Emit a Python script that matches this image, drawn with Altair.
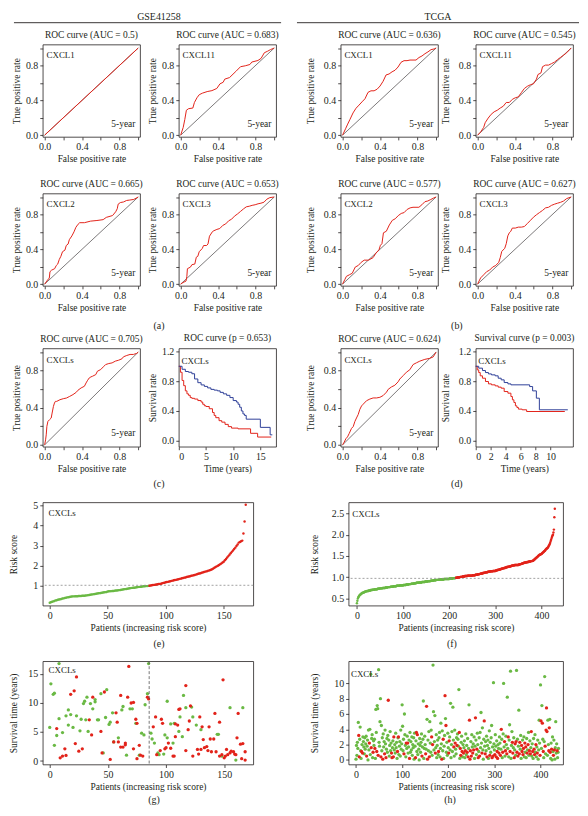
import altair as alt
import pandas as pd

FONT = "Liberation Serif"
INK = "#231f20"
RED = "#e2231a"
GREEN = "#6ab944"
BLUE = "#2e3f98"

# ---------------- ROC curves ----------------
DIAG = [0.0, 1.0]
gse_cxcl1_fpr = [0.0, 1.0]
gse_cxcl1_tpr = [0.0, 1.0]
gse_cxcl11_fpr = [0, 0.027, 0.044, 0.061, 0.085, 0.13, 0.147, 0.174, 0.198, 0.232, 0.283, 0.334, 0.386, 0.42, 0.454, 0.471, 0.522, 0.59, 0.64, 0.69, 0.74, 0.76, 0.826, 0.86, 0.894, 0.93, 0.96, 1.0]
gse_cxcl11_tpr = [0, 0.089, 0.179, 0.286, 0.304, 0.311, 0.375, 0.429, 0.464, 0.482, 0.5, 0.511, 0.536, 0.589, 0.607, 0.643, 0.661, 0.732, 0.786, 0.796, 0.811, 0.839, 0.857, 0.882, 0.946, 0.964, 0.982, 1.0]
gse_cxcl2_fpr = [0, 0.023, 0.05, 0.057, 0.074, 0.107, 0.124, 0.14, 0.157, 0.174, 0.191, 0.217, 0.231, 0.251, 0.264, 0.291, 0.314, 0.334, 0.358, 0.375, 0.425, 0.492, 0.559, 0.625, 0.659, 0.726, 0.759, 0.776, 0.786, 0.809, 0.843, 0.876, 0.91, 0.953, 1]
gse_cxcl2_tpr = [0, 0.035, 0.07, 0.142, 0.16, 0.177, 0.213, 0.23, 0.284, 0.32, 0.372, 0.39, 0.443, 0.46, 0.51, 0.553, 0.6, 0.652, 0.688, 0.705, 0.705, 0.723, 0.73, 0.74, 0.766, 0.787, 0.83, 0.865, 0.918, 0.936, 0.943, 0.96, 0.965, 0.972, 1.0]
gse_cxcl3_fpr = [0, 0.025, 0.057, 0.066, 0.072, 0.104, 0.12, 0.151, 0.167, 0.183, 0.198, 0.23, 0.245, 0.277, 0.292, 0.308, 0.34, 0.355, 0.387, 0.418, 0.45, 0.481, 0.513, 0.544, 0.575, 0.607, 0.638, 0.67, 0.701, 0.733, 0.764, 0.796, 0.827, 0.858, 0.89, 0.921, 0.953, 1]
gse_cxcl3_tpr = [0, 0.018, 0.035, 0.089, 0.177, 0.195, 0.223, 0.23, 0.309, 0.319, 0.372, 0.408, 0.443, 0.443, 0.461, 0.55, 0.603, 0.613, 0.628, 0.638, 0.674, 0.691, 0.727, 0.745, 0.78, 0.805, 0.833, 0.862, 0.887, 0.894, 0.904, 0.911, 0.922, 0.929, 0.94, 0.975, 0.993, 1.0]
tcga_cxcl1_fpr = [0, 0.016, 0.032, 0.055, 0.08, 0.112, 0.144, 0.176, 0.208, 0.24, 0.272, 0.304, 0.337, 0.369, 0.401, 0.433, 0.465, 0.497, 0.529, 0.561, 0.593, 0.625, 0.657, 0.689, 0.721, 0.753, 0.785, 0.817, 0.849, 0.881, 0.913, 0.946, 0.978, 1]
tcga_cxcl1_tpr = [0, 0.036, 0.073, 0.127, 0.182, 0.255, 0.309, 0.345, 0.382, 0.418, 0.491, 0.509, 0.509, 0.527, 0.564, 0.618, 0.691, 0.702, 0.727, 0.745, 0.782, 0.836, 0.855, 0.855, 0.862, 0.862, 0.862, 0.891, 0.909, 0.935, 0.956, 0.982, 0.989, 1]
tcga_cxcl11_fpr = [0, 0.032, 0.065, 0.081, 0.113, 0.145, 0.177, 0.21, 0.242, 0.274, 0.306, 0.339, 0.371, 0.403, 0.435, 0.468, 0.5, 0.532, 0.565, 0.597, 0.629, 0.645, 0.677, 0.694, 0.726, 0.758, 0.79, 0.823, 0.855, 0.887, 0.919, 0.952, 0.984, 1]
tcga_cxcl11_tpr = [0, 0.036, 0.089, 0.143, 0.196, 0.239, 0.268, 0.286, 0.311, 0.332, 0.375, 0.375, 0.411, 0.429, 0.439, 0.489, 0.536, 0.561, 0.579, 0.589, 0.643, 0.696, 0.714, 0.786, 0.804, 0.804, 0.821, 0.839, 0.868, 0.893, 0.918, 0.946, 0.982, 1]
tcga_cxcl2_fpr = [0, 0.025, 0.041, 0.073, 0.104, 0.136, 0.168, 0.199, 0.231, 0.278, 0.326, 0.358, 0.389, 0.405, 0.421, 0.437, 0.468, 0.5, 0.532, 0.563, 0.595, 0.627, 0.658, 0.69, 0.722, 0.753, 0.785, 0.816, 0.848, 0.88, 0.911, 0.943, 0.975, 1]
tcga_cxcl2_tpr = [0, 0.054, 0.089, 0.107, 0.125, 0.196, 0.214, 0.25, 0.275, 0.275, 0.304, 0.357, 0.393, 0.446, 0.464, 0.589, 0.607, 0.679, 0.732, 0.75, 0.786, 0.811, 0.821, 0.857, 0.875, 0.882, 0.882, 0.882, 0.911, 0.946, 0.954, 0.971, 0.989, 1]
tcga_cxcl3_fpr = [0, 0.016, 0.032, 0.065, 0.097, 0.129, 0.161, 0.194, 0.226, 0.242, 0.258, 0.29, 0.306, 0.323, 0.339, 0.355, 0.371, 0.403, 0.435, 0.468, 0.5, 0.532, 0.565, 0.597, 0.629, 0.661, 0.694, 0.726, 0.758, 0.79, 0.823, 0.855, 0.887, 0.919, 0.952, 1]
tcga_cxcl3_tpr = [0, 0.036, 0.071, 0.107, 0.143, 0.161, 0.196, 0.214, 0.25, 0.304, 0.375, 0.411, 0.464, 0.554, 0.589, 0.607, 0.643, 0.643, 0.654, 0.654, 0.661, 0.696, 0.732, 0.768, 0.796, 0.821, 0.846, 0.875, 0.882, 0.904, 0.918, 0.929, 0.939, 0.954, 0.982, 1]
gse_cxcls_fpr = [0, 0.01, 0.017, 0.024, 0.035, 0.052, 0.07, 0.08, 0.094, 0.105, 0.115, 0.129, 0.164, 0.199, 0.233, 0.268, 0.303, 0.338, 0.355, 0.39, 0.425, 0.443, 0.46, 0.477, 0.495, 0.512, 0.547, 0.564, 0.599, 0.634, 0.652, 0.686, 0.721, 0.756, 0.791, 0.826, 0.843, 0.878, 0.913, 0.948, 0.983, 1.0]
gse_cxcls_tpr = [0, 0.054, 0.108, 0.199, 0.253, 0.271, 0.289, 0.343, 0.415, 0.451, 0.469, 0.469, 0.487, 0.498, 0.505, 0.523, 0.542, 0.567, 0.588, 0.614, 0.632, 0.668, 0.697, 0.722, 0.733, 0.74, 0.758, 0.794, 0.812, 0.848, 0.866, 0.877, 0.884, 0.903, 0.913, 0.928, 0.95, 0.964, 0.975, 0.975, 0.986, 1.0]
tcga_cxcls_fpr = [0, 0.018, 0.036, 0.053, 0.071, 0.096, 0.114, 0.132, 0.149, 0.167, 0.185, 0.203, 0.221, 0.256, 0.292, 0.327, 0.363, 0.399, 0.434, 0.47, 0.488, 0.523, 0.559, 0.594, 0.612, 0.648, 0.683, 0.719, 0.754, 0.79, 0.826, 0.879, 0.932, 0.968, 1.0]
tcga_cxcls_tpr = [0, 0.03, 0.067, 0.086, 0.123, 0.178, 0.197, 0.253, 0.29, 0.327, 0.383, 0.42, 0.439, 0.476, 0.494, 0.506, 0.506, 0.513, 0.532, 0.569, 0.599, 0.625, 0.643, 0.68, 0.71, 0.747, 0.784, 0.81, 0.866, 0.885, 0.903, 0.922, 0.933, 0.948, 1.0]

# ---------------- Survival curves ----------------
gse_low_t = [0, 0.6, 1.2, 1.8, 2.4, 2.9, 3.5, 4.1, 4.7, 5.3, 5.9, 6.5, 7.1, 7.6, 8.2, 8.8, 9.4, 10.0, 10.6, 10.9, 11.2, 11.5, 11.8, 12.1, 12.4, 15.0, 16.8, 17.2]
gse_low_s = [1.0, 0.96, 0.93, 0.92, 0.90, 0.83, 0.78, 0.75, 0.73, 0.71, 0.69, 0.68, 0.67, 0.65, 0.63, 0.61, 0.58, 0.54, 0.52, 0.49, 0.45, 0.40, 0.36, 0.34, 0.29, 0.18, 0.08, 0.08]
gse_high_t = [0, 0.3, 0.6, 0.9, 1.2, 1.5, 1.8, 2.1, 2.4, 2.9, 3.5, 4.1, 4.4, 4.7, 5.0, 5.6, 6.2, 6.5, 6.8, 7.4, 7.9, 8.5, 9.1, 9.7, 10.9, 13.2, 14.5, 17.0]
gse_high_s = [1.0, 0.92, 0.81, 0.74, 0.67, 0.63, 0.61, 0.58, 0.57, 0.56, 0.54, 0.52, 0.49, 0.47, 0.46, 0.43, 0.38, 0.34, 0.31, 0.27, 0.25, 0.22, 0.19, 0.17, 0.16, 0.10, 0.05, 0.05]
tcga_low_t = [0, 0.4, 0.9, 1.3, 1.7, 2.1, 2.6, 3.0, 3.4, 3.8, 4.3, 4.7, 7.2, 7.6, 8.1, 8.5, 12.3]
tcga_low_s = [1.0, 0.975, 0.943, 0.916, 0.898, 0.885, 0.872, 0.84, 0.818, 0.782, 0.764, 0.751, 0.728, 0.67, 0.572, 0.416, 0.416]
tcga_high_t = [0, 0.2, 0.4, 0.6, 0.9, 1.3, 1.7, 2.1, 2.6, 3.0, 3.4, 3.8, 4.3, 4.7, 4.9, 5.1, 5.3, 5.5, 5.7, 6.2, 6.8, 11.9]
tcga_high_s = [1.0, 0.952, 0.916, 0.872, 0.84, 0.796, 0.764, 0.751, 0.737, 0.72, 0.706, 0.661, 0.639, 0.594, 0.55, 0.514, 0.469, 0.447, 0.425, 0.416, 0.393, 0.393]

# ---------------- Risk scores (sorted) ----------------
gse_risk = [
    0.16, 0.19, 0.21, 0.23, 0.25, 0.28, 0.29, 0.31, 0.32, 0.34, 0.35, 0.37, 0.38, 0.40, 0.41, 0.43, 0.44, 0.45, 0.46, 0.47,
    0.48, 0.48, 0.49, 0.49, 0.49, 0.50, 0.50, 0.50, 0.51, 0.51, 0.51, 0.52, 0.53, 0.54, 0.55, 0.56, 0.57, 0.58, 0.59, 0.60,
    0.61, 0.62, 0.63, 0.64, 0.65, 0.66, 0.67, 0.68, 0.69, 0.70, 0.72, 0.73, 0.74, 0.74, 0.75, 0.75, 0.76, 0.77, 0.77, 0.78,
    0.79, 0.80, 0.81, 0.82, 0.83, 0.84, 0.85, 0.86, 0.87, 0.88, 0.89, 0.90, 0.91, 0.91, 0.92, 0.93, 0.94, 0.95, 0.95, 0.96,
    0.97, 0.98, 0.98, 0.99, 0.99, 1.00, 1.01, 1.02, 1.03, 1.04, 1.05, 1.06, 1.07, 1.08, 1.09, 1.10, 1.11, 1.13, 1.15, 1.16,
    1.18, 1.19, 1.20, 1.22, 1.23, 1.25, 1.26, 1.28, 1.29, 1.30, 1.32, 1.33, 1.35, 1.36, 1.38, 1.39, 1.41, 1.42, 1.44, 1.45,
    1.47, 1.48, 1.50, 1.51, 1.53, 1.54, 1.56, 1.58, 1.60, 1.62, 1.63, 1.65, 1.67, 1.69, 1.71, 1.72, 1.74, 1.76, 1.78, 1.80,
    1.83, 1.86, 1.90, 1.94, 1.97, 2.00, 2.04, 2.08, 2.12, 2.16, 2.20, 2.27, 2.34, 2.41, 2.48, 2.55, 2.62, 2.69, 2.76, 2.83,
    2.90, 2.98, 3.06, 3.15, 3.18, 3.22, 3.25, 3.60, 4.20, 5.03]
gse_n_low = 86
gse_cutoff = 1.03

tcga_risk = [
    0.39, 0.45, 0.50, 0.53, 0.55, 0.57, 0.58, 0.59, 0.60, 0.61, 0.62, 0.63, 0.63, 0.64, 0.64, 0.65, 0.65, 0.66, 0.66, 0.67,
    0.67, 0.67, 0.68, 0.68, 0.68, 0.68, 0.69, 0.69, 0.69, 0.69, 0.70, 0.70, 0.70, 0.70, 0.71, 0.71, 0.71, 0.71, 0.71, 0.72,
    0.72, 0.72, 0.72, 0.72, 0.72, 0.73, 0.73, 0.73, 0.73, 0.73, 0.74, 0.74, 0.74, 0.74, 0.74, 0.74, 0.75, 0.75, 0.75, 0.75,
    0.75, 0.75, 0.76, 0.76, 0.76, 0.76, 0.76, 0.77, 0.77, 0.77, 0.77, 0.77, 0.77, 0.78, 0.78, 0.78, 0.78, 0.78, 0.78, 0.79,
    0.79, 0.79, 0.79, 0.79, 0.79, 0.79, 0.80, 0.80, 0.80, 0.80, 0.80, 0.80, 0.80, 0.81, 0.81, 0.81, 0.81, 0.81, 0.81, 0.81,
    0.81, 0.82, 0.82, 0.82, 0.82, 0.82, 0.82, 0.83, 0.83, 0.83, 0.83, 0.83, 0.83, 0.84, 0.84, 0.84, 0.84, 0.84, 0.85, 0.85,
    0.85, 0.85, 0.85, 0.85, 0.86, 0.86, 0.86, 0.86, 0.86, 0.87, 0.87, 0.87, 0.87, 0.87, 0.87, 0.88, 0.88, 0.88, 0.88, 0.88,
    0.88, 0.89, 0.89, 0.89, 0.89, 0.89, 0.89, 0.89, 0.90, 0.90, 0.90, 0.90, 0.90, 0.90, 0.91, 0.91, 0.91, 0.91, 0.91, 0.91,
    0.92, 0.92, 0.92, 0.92, 0.92, 0.92, 0.93, 0.93, 0.93, 0.93, 0.93, 0.93, 0.94, 0.94, 0.94, 0.94, 0.94, 0.94, 0.94, 0.95,
    0.95, 0.95, 0.95, 0.95, 0.95, 0.95, 0.95, 0.95, 0.95, 0.96, 0.96, 0.96, 0.96, 0.96, 0.96, 0.96, 0.96, 0.96, 0.96, 0.96,
    0.96, 0.97, 0.97, 0.97, 0.97, 0.97, 0.97, 0.97, 0.98, 0.98, 0.98, 0.98, 0.98, 0.98, 0.99, 0.99, 0.99, 0.99, 0.99, 1.00,
    1.00, 1.00, 1.00, 1.00, 1.01, 1.01, 1.01, 1.01, 1.01, 1.02, 1.02, 1.02, 1.02, 1.02, 1.03, 1.03, 1.03, 1.03, 1.03, 1.03,
    1.04, 1.04, 1.04, 1.04, 1.04, 1.04, 1.04, 1.04, 1.04, 1.04, 1.04, 1.05, 1.05, 1.05, 1.05, 1.05, 1.05, 1.06, 1.06, 1.06,
    1.06, 1.06, 1.07, 1.07, 1.07, 1.07, 1.08, 1.08, 1.08, 1.09, 1.09, 1.09, 1.09, 1.10, 1.10, 1.10, 1.11, 1.11, 1.11, 1.11,
    1.12, 1.12, 1.12, 1.12, 1.13, 1.13, 1.13, 1.13, 1.13, 1.14, 1.14, 1.14, 1.14, 1.14, 1.14, 1.15, 1.15, 1.15, 1.15, 1.15,
    1.15, 1.16, 1.16, 1.16, 1.17, 1.17, 1.17, 1.18, 1.18, 1.18, 1.19, 1.19, 1.19, 1.20, 1.20, 1.20, 1.21, 1.21, 1.21, 1.22,
    1.22, 1.22, 1.23, 1.23, 1.23, 1.24, 1.24, 1.24, 1.25, 1.25, 1.25, 1.25, 1.26, 1.26, 1.26, 1.27, 1.27, 1.27, 1.28, 1.28,
    1.28, 1.28, 1.29, 1.29, 1.29, 1.29, 1.29, 1.29, 1.29, 1.29, 1.29, 1.30, 1.30, 1.30, 1.31, 1.31, 1.31, 1.32, 1.32, 1.33,
    1.33, 1.33, 1.34, 1.34, 1.34, 1.35, 1.35, 1.35, 1.35, 1.36, 1.36, 1.36, 1.36, 1.37, 1.37, 1.37, 1.37, 1.38, 1.38, 1.38,
    1.38, 1.39, 1.39, 1.40, 1.41, 1.42, 1.43, 1.44, 1.45, 1.46, 1.47, 1.48, 1.49, 1.50, 1.51, 1.52, 1.53, 1.53, 1.54, 1.54,
    1.55, 1.56, 1.57, 1.58, 1.59, 1.60, 1.61, 1.62, 1.63, 1.65, 1.66, 1.67, 1.68, 1.69, 1.70, 1.72, 1.74, 1.76, 1.78, 1.81,
    1.85, 1.88, 1.92, 1.95, 1.98, 2.00, 2.05, 2.12, 2.41, 2.61]
tcga_n_low = 215
tcga_cutoff = 0.975

# ---------------- Survival time per patient ----------------
gse_alive_x = [0, 1, 3, 4, 4, 6, 8, 8, 11, 14, 16, 16, 18, 20, 23, 26, 27, 29, 30, 31, 32, 33, 35, 37, 39, 39, 41, 42, 44, 46, 48, 49, 51, 52, 54, 55, 59, 62, 63, 66, 69, 71, 74, 77, 79, 81, 82, 84, 85, 87, 88, 90, 93, 94, 98, 99, 101, 101, 104, 106, 107, 111, 112, 114, 115, 117, 122, 123, 126, 130, 144, 145, 148, 155, 160, 166]
gse_alive_y = [5.8, 13.3, 11.5, 11.7, 2.7, 4.4, 16.8, 7.3, 4.9, 7.8, 8.8, 6.2, 8.0, 5.8, 7.8, 5.2, 7.2, 9.9, 10.3, 7.1, 11.0, 5.1, 9.9, 9.0, 10.6, 10.2, 7.1, 7.1, 11.6, 1.4, 7.5, 12.3, 6.3, 6.7, 8.3, 3.3, 4.0, 8.8, 9.4, 1.0, 9.0, 9.0, 6.5, 1.0, 4.8, 4.5, 9.7, 11.6, 16.8, 4.8, 3.8, 3.1, 1.4, 1.1, 1.2, 4.5, 10.3, 4.0, 6.4, 3.1, 6.5, 5.1, 7.6, 4.2, 11.3, 9.2, 9.3, 7.6, 6.2, 5.4, 4.6, 4.6, 0.85, 9.2, 0.17, 9.2]
gse_dead_x = [6, 9, 11, 13, 14, 18, 21, 22, 23, 25, 28, 34, 36, 37, 44, 45, 47, 52, 55, 57, 58, 59, 61, 61, 63, 65, 65, 67, 68, 70, 72, 72, 74, 75, 75, 77, 78, 80, 84, 85, 89, 91, 92, 95, 96, 97, 99, 100, 102, 104, 106, 107, 108, 108, 110, 111, 112, 117, 117, 119, 120, 121, 123, 127, 128, 129, 130, 131, 132, 133, 135, 136, 137, 138, 139, 141, 142, 143, 146, 146, 148, 149, 150, 151, 152, 153, 155, 156, 158, 159, 160, 161, 162, 164, 165, 166, 168, 168]
gse_dead_y = [5.6, 0.56, 0.85, 2.1, 0.96, 11.5, 12.1, 3.0, 14.5, 1.7, 2.1, 7.1, 4.5, 11.0, 5.1, 1.4, 11.9, 0.28, 3.3, 8.3, 6.7, 3.3, 11.3, 2.4, 2.4, 3.1, 2.8, 11.0, 16.3, 10.0, 10.1, 2.1, 7.2, 6.5, 0.4, 2.7, 1.0, 0.85, 11.0, 10.7, 5.9, 7.6, 1.1, 1.8, 7.2, 6.5, 2.1, 2.3, 3.1, 2.2, 0.85, 0.85, 6.4, 4.2, 6.2, 8.9, 9.0, 13.0, 1.8, 5.4, 6.9, 9.5, 0.85, 2.0, 1.2, 7.6, 2.0, 5.9, 3.7, 2.3, 2.5, 1.8, 5.9, 3.8, 1.6, 3.8, 8.2, 1.6, 6.7, 0.85, 1.1, 14.0, 0.56, 0.85, 2.0, 1.1, 1.4, 1.7, 1.6, 1.2, 1.1, 4.0, 8.2, 2.9, 0.4, 3.0, 1.6, 0.17]

tcga_time = [
    0.1, 1.9, 0.6, 2.3, 1.5, 4.9, 3.2, 0.4, 2.7, 4.3, 1.2, 0.2, 1.1, 2.0, 0.9, 3.0, 2.4, 1.7, 0.8, 2.9,
    1.4, 2.1, 3.1, 0.5, 1.8, 2.6, 0.0, 3.9, 1.3, 2.2, 4.0, 0.7, 11.2, 1.6, 2.8, 3.3, 0.3, 1.0, 2.5, 1.9,
    2.7, 1.5, 0.2, 6.6, 3.6, 1.1, 7.1, 6.7, 0.6, 11.8, 2.3, 1.8, 5.0, 8.0, 0.4, 4.5, 1.2, 2.9, 0.1, 3.4,
    1.7, 2.4, 0.8, 3.9, 2.1, 0.3, 1.4, 2.8, 1.0, 3.2, 7.8, 2.6, 0.5, 1.9, 3.7, 1.2, 2.2, 0.9, 0.3, 1.6,
    2.5, 0.4, 3.0, 1.3, 2.0, 0.9, 3.5, 1.6, 2.3, 0.2, 1.1, 2.9, 3.0, 0.7, 1.8, 2.4, 0.5, 3.9, 1.4, 2.1,
    7.2, 4.4, 1.2, 2.7, 0.8, 6.0, 3.3, 1.9, 0.4, 2.2, 1.5, 3.1, 2.2, 0.9, 1.7, 2.6, 0.2, 3.6, 1.0, 2.4,
    1.3, 3.0, 0.6, 2.0, 1.6, 2.9, 0.1, 3.5, 1.8, 0.3, 2.5, 3.6, 1.1, 3.3, 0.7, 2.1, 1.4, 0.0, 2.8, 1.9,
    1.0, 2.3, 3.4, 0.5, 1.7, 2.7, 7.7, 0.2, 1.5, 3.1, 2.0, 0.8, 1.4, 7.0, 5.3, 0.1, 2.6, 1.2, 3.7, 0.4,
    5.0, 2.2, 1.0, 3.9, 3.0, 0.6, 2.0, 12.4, 6.3, 1.3, 2.4, 5.8, 0.9, 1.6, 3.3, 0.3, 1.9, 2.6, 0.7, 1.1,
    2.9, 3.6, 0.4, 1.5, 4.8, 2.1, 0.1, 3.8, 1.2, 2.7, 0.2, 1.8, 3.2, 8.4, 5.4, 4.5, 1.0, 2.3, 0.6, 3.5,
    1.6, 0.9, 2.5, 3.0, 1.3, 7.4, 0.3, 2.0, 3.7, 1.1, 6.9, 2.6, 1.7, 0.5, 3.9, 2.2, 1.4, 0.8, 2.9, 1.9,
    3.4, 2.7, 1.8, 9.2, 3.6, 0.2, 1.5, 0.6, 2.3, 3.1, 1.1, 0.4, 2.0, 0.9, 1.6, 2.5, 0.3, 1.2, 3.4, 0.7,
    1.9, 1.0, 2.8, 0.4, 1.5, 7.2, 5.2, 0.1, 1.2, 2.4, 0.5, 3.3, 1.7, 0.9, 2.1, 1.3, 3.0, 0.2, 1.8, 5.5,
    2.6, 0.7, 1.4, 3.5, 2.0, 0.3, 1.1, 2.9, 0.5, 3.6, 1.6, 6.2, 2.2, 0.9, 4.2, 1.3, 0.1, 2.7, 5.1, 1.8,
    0.8, 2.4, 1.2, 3.1, 0.4, 1.9, 2.6, 0.2, 1.5, 3.8, 0.6, 2.3, 1.0, 2.9, 4.5, 0.3, 1.7, 0.5, 10.1, 2.1,
    1.3, 0.7, 3.3, 1.8, 0.4, 2.5, 1.1, 0.2, 2.0, 1.5, 0.9, 3.0, 2.2, 0.6, 1.4, 4.0, 2.7, 0.3, 1.0, 3.4,
    10.0, 1.7, 2.4, 0.5, 1.2, 3.1, 2.0, 0.8, 8.2, 1.5, 3.0, 0.4, 2.6, 4.6, 1.1, 11.6, 0.2, 1.9, 3.7, 2.3,
    0.9, 1.6, 2.9, 0.3, 1.3, 2.1, 0.6, 2.4, 11.7, 1.0, 2.7, 0.5, 1.8, 6.5, 0.8, 2.3, 1.4, 3.2, 0.2, 1.9,
    1.1, 2.6, 0.7, 1.5, 3.0, 0.4, 2.2, 1.0, 1.7, 0.3, 2.8, 0.9, 1.3, 2.0, 3.6, 0.6, 1.2, 2.5, 0.8, 1.6,
    3.7, 0.5, 2.1, 1.1, 0.2, 2.8, 1.4, 0.7, 3.3, 1.0, 2.0, 0.4, 1.7, 0.9, 2.6, 0.1, 1.3, 5.2, 2.2, 0.6,
    9.8, 5.1, 1.5, 7.1, 4.8, 2.7, 1.1, 0.3, 2.4, 10.9, 1.8, 0.8, 3.9, 6.8, 3.7, 0.6, 5.2, 2.0, 1.2, 4.2,
    5.3, 1.0, 0.2, 2.2, 1.4, 0.0, 3.0, 1.1, 0.6, 2.6, 1.3, 0.1, 1.6, 5.0, 0.9, 2.1, 1.2, 0.3, 1.0, 1.5]
tcga_status = (
    "ggggggrrggggrgrggggg" "gggrgggggrgggrgggrgg" "grgggrggrgggggrgggrg" "ggrggrggggrggggggrrg"
    "grrgggggggrgrggggggg" "ggggrggggrggrgggrggg" "gggggggggrgrgrgggggg" "gggrgggggggrgrgrgggr"
    "ggggrgrgggggrggggggr" "ggggggrggrgggrgrgggg" "grrgggggggggrggrgggr" "ggggrgrrggrggrgggrgg"
    "grgrggrrrgrggrgrgggr" "ggrggrggrggggrggggrg" "rgggrgggggrggggrgrgg" "grggrgrrggrggrgrggrg"
    "ggrgrggrggrgggrggggr" "rggrgrgrgrgrggrrgggr" "rgrrggrgrggrgrggrgrg" "rggrggrrggrggrgggggr"
    "grggrgrgggrgrrrgggrr" "grggrgggrgrgggggrggg")

# ---------------- helpers ----------------
LAB01 = "round(datum.value * 10) % 4 == 0 && datum.value < 0.9 ? format(datum.value, '.1f') : ''"
TICKS01 = [0, 0.2, 0.4, 0.6, 0.8, 1.0]
W_ROC = 98


def yaxis(title, values, pad, fmt=None, label_expr=None):
    kw = dict(title=title, values=values, tickCount=50, minExtent=18, maxExtent=18, titlePadding=pad,
              labelOverlap=False, labelBound=False)
    if fmt:
        kw["format"] = fmt
    if label_expr:
        kw["labelExpr"] = label_expr
    return alt.Axis(**kw)


def xaxis(title, values, fmt=None, label_expr=None):
    kw = dict(title=title, values=values, tickCount=50, titlePadding=2, labelOverlap=False)
    if fmt:
        kw["format"] = fmt
    if label_expr:
        kw["labelExpr"] = label_expr
    return alt.Axis(**kw)


def note(text, x, y, align="left", size=9):
    return alt.Chart(pd.DataFrame({"t": [text]})).mark_text(
        align=align, baseline="middle", font=FONT, fontSize=size, color=INK
    ).encode(x=x, y=y, text="t:N")


def hrule(x1, x2, y):
    return alt.Chart(pd.DataFrame({"k": [0]})).mark_rule(color=INK, strokeWidth=0.9).encode(
        x=alt.value(x1), x2=alt.value(x2), y=alt.value(y))


def ptitle(text):
    return alt.Title(text, frame="group", anchor="middle", offset=4)


def roc_panel(fpr, tpr, auc, gene, h, ypad, extra=()):
    xs = alt.Scale(domain=[-0.02, 1.02], nice=False, zero=False)
    ys = alt.Scale(domain=[-0.02, 1.04], nice=False, zero=False)
    diag = alt.Chart(pd.DataFrame({"fpr": DIAG, "tpr": DIAG})).mark_line(color=INK, strokeWidth=0.6).encode(
        x=alt.X("fpr:Q", scale=xs, axis=xaxis("False positive rate", TICKS01, label_expr=LAB01)),
        y=alt.Y("tpr:Q", scale=ys, axis=yaxis("True positive rate", TICKS01, ypad, label_expr=LAB01)))
    curve = alt.Chart(pd.DataFrame({"fpr": fpr, "tpr": tpr, "k": list(range(len(fpr)))})).mark_line(
        color=RED, strokeWidth=1).encode(x="fpr:Q", y="tpr:Q", order="k:Q")
    layers = [diag, curve, note(gene, alt.datum(0.02), alt.datum(0.92)),
              note("5-year", alt.datum(0.97), alt.datum(0.13), align="right", size=9.5)] + list(extra)
    return alt.layer(*layers).properties(width=W_ROC, height=h, title=ptitle(f"ROC curve (AUC = {auc})"))


def surv_panel(hi_t, hi_s, lo_t, lo_s, title, xdom, xvals, w, h, ypad, cx, extra=()):
    xs = alt.Scale(domain=xdom, nice=False, zero=False)
    ys = alt.Scale(domain=[-0.08, 1.24], nice=False, zero=False)
    hi = alt.Chart(pd.DataFrame({"t": hi_t, "s": hi_s})).mark_line(
        interpolate="step-after", strokeWidth=1, color=RED).encode(
        x=alt.X("t:Q", scale=xs, axis=xaxis("Time (years)", xvals, fmt="d")),
        y=alt.Y("s:Q", scale=ys, axis=yaxis("Survival rate", [0, 0.4, 0.8, 1.2], ypad, fmt=".1f")))
    lo = alt.Chart(pd.DataFrame({"t": lo_t, "s": lo_s})).mark_line(
        interpolate="step-after", strokeWidth=1, color=BLUE).encode(x="t:Q", y="s:Q")
    layers = [hi, lo, note("CXCLs", alt.datum(cx), alt.datum(1.07))] + list(extra)
    return alt.layer(*layers).properties(width=w, height=h, title=ptitle(title))


def risk_panel(vals, n_low, cutoff, xdom, xvals, ydom, yvals, yfmt, w, h, ypad, cx, cy, extra=()):
    idx = list(range(len(vals)))
    xs = alt.Scale(domain=xdom, nice=False, zero=False)
    ys = alt.Scale(domain=ydom, nice=False, zero=False)
    cut = alt.Chart(pd.DataFrame({"k": [0]})).mark_rule(color="#8a8a8a", strokeWidth=0.8, strokeDash=[2, 2]).encode(
        y=alt.datum(cutoff))
    low = alt.Chart(pd.DataFrame({"i": idx[:n_low], "r": vals[:n_low]})).mark_circle(
        size=6, opacity=1, color=GREEN).encode(
        x=alt.X("i:Q", scale=xs, axis=xaxis("Patients (increasing risk score)", xvals, fmt="d")),
        y=alt.Y("r:Q", scale=ys, axis=yaxis("Risk score", yvals, ypad, fmt=yfmt)))
    high = alt.Chart(pd.DataFrame({"i": idx[n_low:], "r": vals[n_low:]})).mark_circle(
        size=6, opacity=1, color=RED).encode(x="i:Q", y="r:Q")
    layers = [low, cut, high, note("CXCLs", alt.datum(cx), alt.datum(cy))] + list(extra)
    return alt.layer(*layers).properties(width=w, height=h)


def time_panel(ax, ay, dx, dy, xdom, xvals, ydom, yvals, w, h, ypad, cx, cy, extra=()):
    xs = alt.Scale(domain=xdom, nice=False, zero=False)
    ys = alt.Scale(domain=ydom, nice=False, zero=False)
    alive = alt.Chart(pd.DataFrame({"i": ax, "y": ay})).mark_circle(size=11, opacity=1, color=GREEN).encode(
        x=alt.X("i:Q", scale=xs, axis=xaxis("Patients (increasing risk score)", xvals, fmt="d")),
        y=alt.Y("y:Q", scale=ys, axis=yaxis("Survival time (years)", yvals, ypad, fmt="d")))
    dead = alt.Chart(pd.DataFrame({"i": dx, "y": dy})).mark_circle(size=11, opacity=1, color=RED).encode(
        x="i:Q", y="y:Q")
    layers = [alive, dead, note("CXCLs", alt.datum(cx), alt.datum(cy))] + list(extra)
    return alt.layer(*layers).properties(width=w, height=h)


def spacer(w, h, extra=()):
    base = alt.Chart(pd.DataFrame({"k": [0]})).mark_point(opacity=0).encode(x=alt.value(0), y=alt.value(0))
    return alt.layer(base, *extra).properties(width=w, height=h, view=alt.ViewBackground(stroke="transparent"))


PL = 3.5   # left column y-title padding
PR = 7     # right column y-title padding

# ---------------- panels ----------------
a1 = roc_panel(gse_cxcl1_fpr, gse_cxcl1_tpr, "0.5", "CXCL1", 93, PL)
a2 = roc_panel(gse_cxcl11_fpr, gse_cxcl11_tpr, "0.683", "CXCL11", 93, PL)
b1 = roc_panel(tcga_cxcl1_fpr, tcga_cxcl1_tpr, "0.636", "CXCL1", 93, PR)
b2 = roc_panel(tcga_cxcl11_fpr, tcga_cxcl11_tpr, "0.545", "CXCL11", 93, PR)
head_gse = spacer(39, 95, extra=[note("GSE41258", alt.value(19), alt.value(-28), align="center", size=10),
                                 hrule(-127, 142, -22)])
head_tcga = spacer(38, 1, extra=[note("TCGA", alt.value(0), alt.value(-28), align="center", size=10),
                                 hrule(-142, 142, -22)])

a3 = roc_panel(gse_cxcl2_fpr, gse_cxcl2_tpr, "0.665", "CXCL2", 93, PL,
               extra=[note("(a)", alt.value(117), alt.value(133), align="center", size=10)])
a4 = roc_panel(gse_cxcl3_fpr, gse_cxcl3_tpr, "0.653", "CXCL3", 93, PL)
b3 = roc_panel(tcga_cxcl2_fpr, tcga_cxcl2_tpr, "0.577", "CXCL2", 93, PR,
               extra=[note("(b)", alt.value(117), alt.value(133), align="center", size=10)])
b4 = roc_panel(tcga_cxcl3_fpr, tcga_cxcl3_tpr, "0.627", "CXCL3", 93, PR)

c1 = roc_panel(gse_cxcls_fpr, gse_cxcls_tpr, "0.705", "CXCLs", 99, PL,
               extra=[note("(c)", alt.value(117), alt.value(137), align="center", size=10)])
c2 = surv_panel(gse_high_t, gse_high_s, gse_low_t, gse_low_s, "ROC curve (p = 0.653)",
                [0, 17.9], [0, 5, 10, 15], 98, 99, PL, 0.5)
d1 = roc_panel(tcga_cxcls_fpr, tcga_cxcls_tpr, "0.624", "CXCLs", 99, PR,
               extra=[note("(d)", alt.value(117), alt.value(137), align="center", size=10)])
d2 = surv_panel(tcga_high_t, tcga_high_s, tcga_low_t, tcga_low_s, "Survival curve (p = 0.003)",
                [0, 13.0], [0, 2, 4, 6, 8, 10], 98, 99, PR, 0.35)

e = risk_panel(gse_risk, gse_n_low, gse_cutoff, [-6, 175.5], [0, 50, 100, 150], [0.02, 5.15], [1, 2, 3, 4, 5], "d",
               212, 104, PL + 2.5, -1, 4.6,
               extra=[note("(e)", alt.value(117), alt.value(143), align="center", size=10)])
f = risk_panel(tcga_risk, tcga_n_low, tcga_cutoff, [-18, 447], [0, 100, 200, 300, 400], [0.335, 2.76],
               [0.5, 1.0, 1.5, 2.0, 2.5], ".1f", 216, 104, PR + 4, -10, 2.48,
               extra=[note("(f)", alt.value(104), alt.value(143), align="center", size=10)])

vline = alt.Chart(pd.DataFrame({"k": [0]})).mark_rule(color="#555", strokeWidth=0.8, strokeDash=[3, 2]).encode(
    x=alt.datum(85.5))
g = time_panel(gse_alive_x, gse_alive_y, gse_dead_x, gse_dead_y, [-6, 175], [0, 50, 100, 150], [-0.6, 17.2],
               [0, 5, 10, 15], 212, 104, PL + 2.5, -1, 15.6,
               extra=[vline, note("(g)", alt.value(112), alt.value(140), align="center", size=10)])

h_alive_x = [i for i, c in enumerate(tcga_status) if c == "g"]
h_alive_y = [tcga_time[i] for i in h_alive_x]
h_dead_x = [i for i, c in enumerate(tcga_status) if c == "r"]
h_dead_y = [tcga_time[i] for i in h_dead_x]
h = time_panel(h_alive_x, h_alive_y, h_dead_x, h_dead_y, [-16, 449], [0, 100, 200, 300, 400], [-0.6, 12.9],
               [0, 2, 4, 6, 8, 10], 216, 104, PR + 4, -11, 11.2,
               extra=[note("(h)", alt.value(102), alt.value(140), align="center", size=10)])

top = alt.concat(
    a1, head_gse, a2, spacer(65, 1), b1, head_tcga, b2,
    a3, spacer(39, 101), a4, spacer(65, 1), b3, spacer(38, 1), b4,
    c1, spacer(39, 1), c2, spacer(65, 1), d1, spacer(38, 1), d2,
    columns=7, spacing={"row": 55, "column": 0}, align="each", bounds="flush")

bottom = alt.concat(
    e, spacer(96, 1), f,
    g, spacer(96, 1), h,
    columns=3, spacing={"row": 56, "column": 0}, align="each", bounds="flush")

chart = alt.vconcat(top, bottom, spacing=8).properties(
    padding={"left": 0, "top": 0, "right": 0, "bottom": 0}
).configure_view(
    stroke=INK, strokeWidth=0.8
).configure_axis(
    grid=False, domain=False, labelFont=FONT, titleFont=FONT, labelFontSize=10, titleFontSize=9.5,
    titleFontWeight="normal", labelColor=INK, titleColor=INK, tickColor=INK, tickSize=3, tickWidth=0.8,
    labelPadding=2, labelOverlap=False
).configure_title(
    font=FONT, fontSize=9.5, fontWeight="normal", color=INK, offset=4, anchor="middle"
)

chart.save("out.html", embed_options={"renderer": "svg", "actions": False})
